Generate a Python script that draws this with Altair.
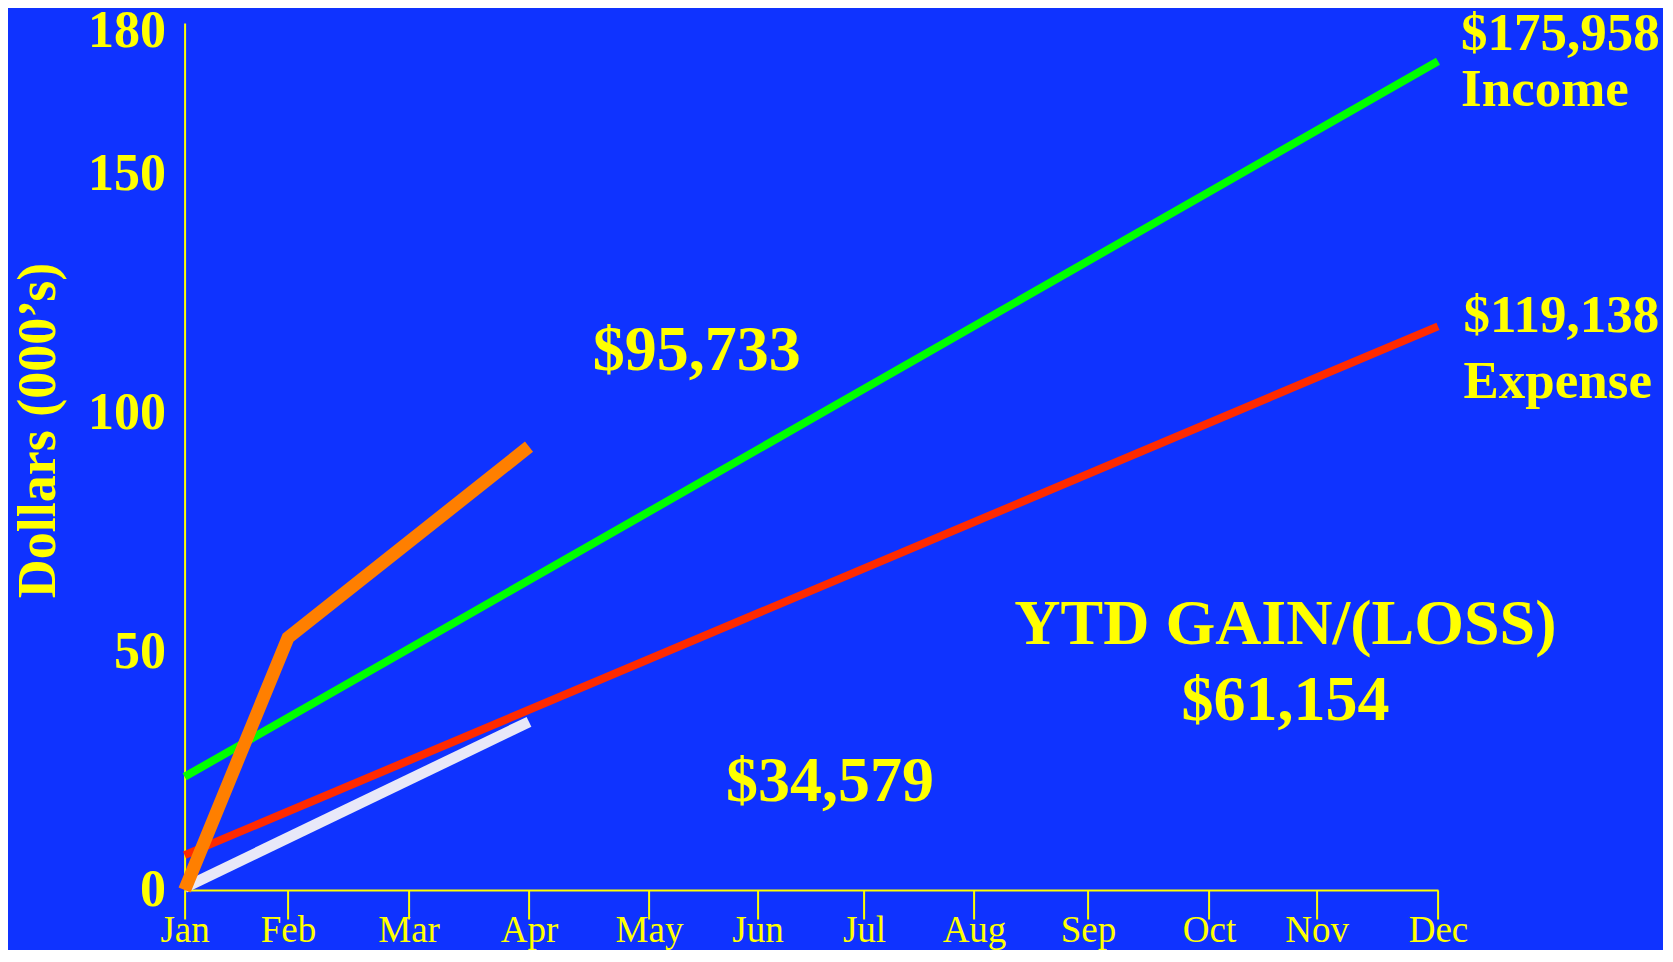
import altair as alt
import pandas as pd

# ---- data ----
months = ["Jan", "Feb", "Mar", "Apr", "May", "Jun", "Jul", "Aug", "Sep", "Oct", "Nov", "Dec"]

income_budget_m = [0, 11]
income_budget_v = [23.7, 173.5]

expense_budget_m = [0, 11]
expense_budget_v = [7.3, 118.0]

income_actual_m = [0, 1, 3]
income_actual_v = [0.0, 52.8, 92.8]

expense_actual_m = [0, 3]
expense_actual_v = [0.5, 35.2]

y_ticks = [0, 50, 100, 150, 180]

label_text_c = ["$95,733", "YTD GAIN/(LOSS)", "$61,154", "$34,579"]
label_x_c = [4.44, 9.71, 9.71, 5.68]
label_y_c = [112.8, 55.5, 39.5, 22.6]

label_text_l = ["$175,958", "Income", "$119,138", "Expense"]
label_x_l = [11.19, 11.19, 11.21, 11.21]
label_y_l = [179.2, 167.4, 120.2, 106.4]

# ---- tables ----
def series(name, m, v):
    return pd.DataFrame({"series": name, "m": m, "v": v})

lines = pd.concat([
    series("expense_actual", expense_actual_m, expense_actual_v),
    series("income_budget", income_budget_m, income_budget_v),
    series("expense_budget", expense_budget_m, expense_budget_v),
    series("income_actual", income_actual_m, income_actual_v),
], ignore_index=True)

txt_c = pd.DataFrame({"t": label_text_c, "m": label_x_c, "v": label_y_c})
txt_l = pd.DataFrame({"t": label_text_l, "m": label_x_l, "v": label_y_l})

YEL = "#FFFF00"
BG = "#0F33FF"
SERIF = "Liberation Serif"

# irregular month spacing as in the reference
x_range = [0, 103.4, 224, 344.4, 464.4, 572.9, 679.4, 789.4, 903.4, 1024.4, 1132, 1253.4]
month_expr = "['" + "','".join(months) + "'][datum.value]"

xscale = alt.Scale(domain=list(range(12)), range=x_range)
yscale = alt.Scale(domain=[0, 181.5], nice=False, zero=False)

xaxis = alt.Axis(values=list(range(12)), labelExpr=month_expr, title=None, grid=False,
                 domainColor=YEL, domainWidth=2, tickColor=YEL, tickWidth=2, tickSize=29,
                 labelColor=YEL, labelFont=SERIF, labelFontSize=37, labelFontWeight="normal",
                 labelPadding=-6, labelFlush=False, labelOverlap=False)
yaxis = alt.Axis(values=y_ticks, title="Dollars (000’s)", grid=False, ticks=False,
                 domainColor=YEL, domainWidth=2,
                 labelColor=YEL, labelFont=SERIF, labelFontSize=52, labelFontWeight="bold",
                 labelPadding=19, labelBaseline="middle", labelFlush=False, labelOverlap=False,
                 titleColor=YEL, titleFont=SERIF, titleFontSize=54, titleFontWeight="bold",
                 titleX=-146, titleY=407, titleAngle=270, titleBaseline="middle", titleAlign="center")

X = alt.X("m:Q", scale=xscale, axis=xaxis)
Y = alt.Y("v:Q", scale=yscale, axis=yaxis)

base = alt.Chart(lines)

def line_layer(name, color, width):
    return base.transform_filter(alt.datum.series == name).mark_line(
        color=color, strokeWidth=width, strokeCap="butt", strokeJoin="miter"
    ).encode(x=X, y=Y)

layers = [
    line_layer("expense_actual", "#E8E8F8", 11),
    line_layer("income_budget", "#00FF00", 8),
    line_layer("expense_budget", "#FF2A00", 8),
    line_layer("income_actual", "#FF7F00", 13),
]

text_c = alt.Chart(txt_c).mark_text(
    font=SERIF, fontSize=64, fontWeight="bold", color=YEL, align="center", baseline="middle"
).encode(x=X, y=Y, text="t:N")

text_l = alt.Chart(txt_l).mark_text(
    font=SERIF, fontSize=53, fontWeight="bold", color=YEL, align="left", baseline="middle"
).encode(x=X, y=Y, text="t:N")

chart = alt.layer(*layers, text_c, text_l).properties(
    width=1253, height=867,
    autosize=alt.AutoSizeParams(type="none"),
    padding={"left": 176.6, "top": 15, "right": 225, "bottom": 60},
    background=BG,
).configure_view(stroke=None)

chart.save("out.html", embed_options={"renderer": "svg", "actions": False})
